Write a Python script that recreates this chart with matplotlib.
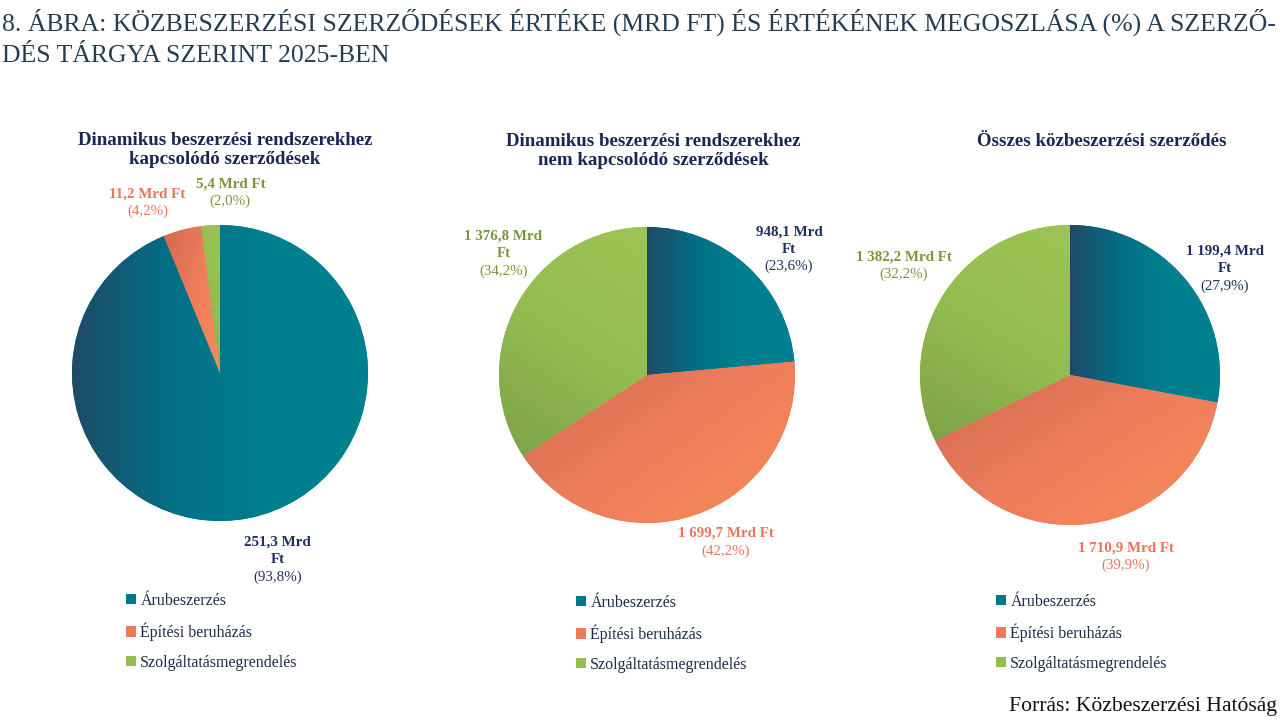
import numpy as np
import matplotlib
matplotlib.use("Agg")
import matplotlib.pyplot as plt
from matplotlib.colors import LinearSegmentedColormap

plt.rcParams['font.family'] = ['Liberation Serif', 'DejaVu Serif']

# --- data ---
categories = ['Árubeszerzés', 'Építési beruházás', 'Szolgáltatásmegrendelés']
panel_titles = ['Dinamikus beszerzési rendszerekhez\nkapcsolódó szerződések',
                'Dinamikus beszerzési rendszerekhez\nnem kapcsolódó szerződések',
                'Összes közbeszerzési szerződés']
dbr_values = [251.3, 11.2, 5.4]
nem_dbr_values = [948.1, 1699.7, 1376.8]
osszes_values = [1199.4, 1710.9, 1382.2]
all_values = [dbr_values, nem_dbr_values, osszes_values]
title_lines = ['8. ÁBRA: KÖZBESZERZÉSI SZERZŐDÉSEK ÉRTÉKE (MRD FT) ÉS ÉRTÉKÉNEK MEGOSZLÁSA (%) A SZERZŐ-',
               'DÉS TÁRGYA SZERINT 2025-BEN']
source = 'Forrás: Közbeszerzési Hatóság'

# --- style / layout ---
W, H = 1280, 727
base_colors = ['#00788c', '#ee7b58', '#93bd4f']
grad_stops = [
    ['#1f4a66', '#036f86', '#00808f', '#00818f'],  # horizontal
    ['#d06a50', '#ee7d5c', '#f78b58'],             # diagonal
    ['#9dc454', '#93bc50', '#7da247'],             # vertical-ish
]
label_colors = ['#1f3060', '#ea7659', '#7a963c']
# pie centre x, centre y (from top), radius, all in pixels
pies = [(220, 373, 148), (647, 375, 148), (1070, 375, 150)]
# label block centres relative to pie centre, in radius units
label_pos = [
    [(0.39, -1.26), (-0.49, 1.15), (0.07, 1.22)],
    [(0.96, 0.85), (0.53, -1.13), (-0.97, 0.82)],
    [(1.03, 0.71), (0.37, -1.21), (-1.11, 0.73)],
]
label_breaks = [
    [True, False, False],
    [True, False, True],
    [True, False, False],
]
subtitle_xy = [(225, 150), (653, 151), (1102, 142)]
legend_xy = [(118, 585), (568, 587), (988, 586)]


def hu(v):
    return f"{v:,.1f}".replace(",", " ").replace(".", ",")


fig = plt.figure(figsize=(W / 100, H / 100), dpi=100)

for k, vals in enumerate(all_values):
    cx, cy, r = pies[k]
    m = 1.4
    ax = fig.add_axes([(cx - m * r) / W, (H - cy - m * r) / H, 2 * m * r / W, 2 * m * r / H])
    wedges, _ = ax.pie(vals, colors=base_colors, startangle=90, counterclock=False,
                       wedgeprops=dict(linewidth=0))
    ax.set_xlim(-m, m)
    ax.set_ylim(-m, m)
    ax.set_aspect('equal')
    ax.axis('off')

    # gradient fill clipped to each wedge
    for i, w in enumerate(wedges):
        ext = w.get_path().get_extents()
        x0, y0, x1, y1 = ext.x0, ext.y0, ext.x1, ext.y1
        gx, gy = np.meshgrid(np.linspace(0, 1, 200), np.linspace(0, 1, 200))
        if i == 0:
            g = gx
        elif i == 1:
            g = 0.55 * gx + 0.45 * (1 - gy)
        else:
            g = 0.3 * (1 - gx) + 0.7 * (1 - gy)
        cmap = LinearSegmentedColormap.from_list(f'g{i}', grad_stops[i])
        im = ax.imshow(g, cmap=cmap, extent=(x0, x1, y0, y1), origin='lower',
                       vmin=0, vmax=1, aspect='auto', zorder=1, interpolation='bilinear')
        im.set_clip_path(w)

    # data labels
    tot = sum(vals)
    lh = 17.5 / r
    for i, v in enumerate(vals):
        if label_breaks[k][i]:
            bold_lines = [f"{hu(v)} Mrd", "Ft"]
        else:
            bold_lines = [f"{hu(v)} Mrd Ft"]
        lines = bold_lines + [f"({v / tot * 100:.1f}%)".replace(".", ",")]
        n = len(lines)
        lx, ly = label_pos[k][i]
        for j, s in enumerate(lines):
            yy = ly + ((n - 1) / 2 - j) * lh
            ax.text(lx, yy, s, ha='center', va='center', fontsize=10.8,
                    fontweight='bold' if j < n - 1 else 'normal',
                    color=label_colors[i], clip_on=False, zorder=5)

    # panel title
    sx, sy = subtitle_xy[k]
    fig.text(sx / W, 1 - sy / H, panel_titles[k], ha='center', va='center',
             fontsize=13.6, fontweight='bold', color='#1b2656', linespacing=1.2)

    # legend
    lx, ly = legend_xy[k]
    fig.legend(wedges, categories, loc='upper left',
               bbox_to_anchor=(lx / W, 1 - ly / H), frameon=False,
               fontsize=11.5, handlelength=0.6, handleheight=0.6,
               handletextpad=0.3, labelspacing=0.85, borderpad=0,
               labelcolor='#1f2b4d')

# main title, sized so the first line spans the full width
t1 = fig.text(2 / W, 1 - 31 / H, title_lines[0], ha='left', va='baseline',
              fontsize=19.5, color='#243d52')
t2 = fig.text(2 / W, 1 - 62 / H, title_lines[1], ha='left', va='baseline',
              fontsize=19.5, color='#243d52')
rend = fig.canvas.get_renderer()
wpx = t1.get_window_extent(rend).width
fs = 19.5 * 1275 / wpx
t1.set_fontsize(fs)
t2.set_fontsize(fs)

fig.text(1277 / W, 1 - 711 / H, source, ha='right', va='baseline',
         fontsize=15.6, color='#111111')

fig.savefig('out.png', dpi=100, facecolor='white')
